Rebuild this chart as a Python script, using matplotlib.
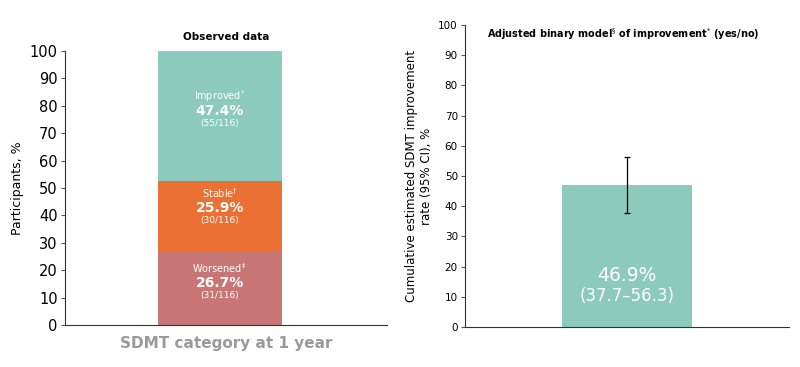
import matplotlib.pyplot as plt

# Observed data (stacked, bottom to top)
categories = ["Worsened", "Stable", "Improved"]
marks = ["$^{\\ddagger}$", "$^{\\dagger}$", "$^{*}$"]
percents = [26.7, 25.9, 47.4]
counts = ["(31/116)", "(30/116)", "(55/116)"]
seg_colors = ["#c87675", "#ea7034", "#8ccabb"]

# Adjusted binary model
model_rate = 46.9
ci_low = 37.7
ci_high = 56.3

yticks = list(range(0, 101, 10))

fig = plt.figure(figsize=(8, 3.67), dpi=100)

# ---- left panel: observed data ----
ax1 = fig.add_axes([0.081, 0.1144, 0.4025, 0.7466])
bottom = 0
label_offsets = [20.8, 21.5, 31.0]  # where each label block sits above its segment base
for cat, mk, p, c, col, off in zip(categories, marks, percents, counts, seg_colors, label_offsets):
    ax1.bar(0, p, width=1, bottom=bottom, color=col, zorder=2)
    y = bottom + off
    ax1.text(0, y, cat + mk, ha="center", va="center", color="white", fontsize=7)
    ax1.text(0, y - 5.4, f"{p}%", ha="center", va="center", color="white",
             fontsize=10, fontweight="bold")
    ax1.text(0, y - 10.2, c, ha="center", va="center", color="white", fontsize=6.5)
    bottom += p

ax1.set_xlim(-1.25, 1.35)
ax1.set_ylim(0, 100)
ax1.set_yticks(yticks)
ax1.tick_params(axis="y", labelsize=10.5, length=3, width=0.8, color="#555555", pad=2)
ax1.set_xticks([])
ax1.set_ylabel("Participants, %", fontsize=9, labelpad=4)
ax1.set_xlabel("SDMT category at 1 year", fontsize=11, fontweight="bold",
               color="#9a9a9a", labelpad=8)
ax1.set_title("Observed data", fontsize=7.5, fontweight="bold", pad=8)
ax1.spines["top"].set_visible(False)
ax1.spines["right"].set_visible(False)
ax1.spines["left"].set_color("#333333")
ax1.spines["bottom"].set_color("#333333")

# ---- right panel: adjusted binary model ----
ax2 = fig.add_axes([0.581, 0.109, 0.405, 0.823])
ax2.bar(0, model_rate, width=1, color="#8ccabb", zorder=2)
ax2.errorbar(0, model_rate, yerr=[[model_rate - ci_low], [ci_high - model_rate]],
             fmt="none", ecolor="black", elinewidth=0.9, capsize=2, capthick=0.9, zorder=3)
ax2.text(0, 17, f"{model_rate}%", ha="center", va="center", color="white", fontsize=13.5)
ax2.text(0, 10.3, f"({ci_low}\u2013{ci_high})", ha="center", va="center",
         color="white", fontsize=12)
ax2.text(-0.03, 97, "Adjusted binary model$^{\\S}$ of improvement$^{*}$ (yes/no)",
         ha="center", va="center", fontsize=7, fontweight="bold")

ax2.set_xlim(-1.246, 1.246)
ax2.set_ylim(0, 100)
ax2.set_yticks(yticks)
ax2.tick_params(axis="y", labelsize=7.5, length=3, width=0.8, color="#555555", pad=2)
ax2.set_xticks([])
ax2.set_ylabel("Cumulative estimated SDMT improvement\nrate (95% CI), %", fontsize=8.5,
               labelpad=4)
ax2.spines["top"].set_visible(False)
ax2.spines["right"].set_visible(False)
ax2.spines["left"].set_color("#333333")
ax2.spines["bottom"].set_color("#333333")

fig.savefig("out.png", dpi=100)
